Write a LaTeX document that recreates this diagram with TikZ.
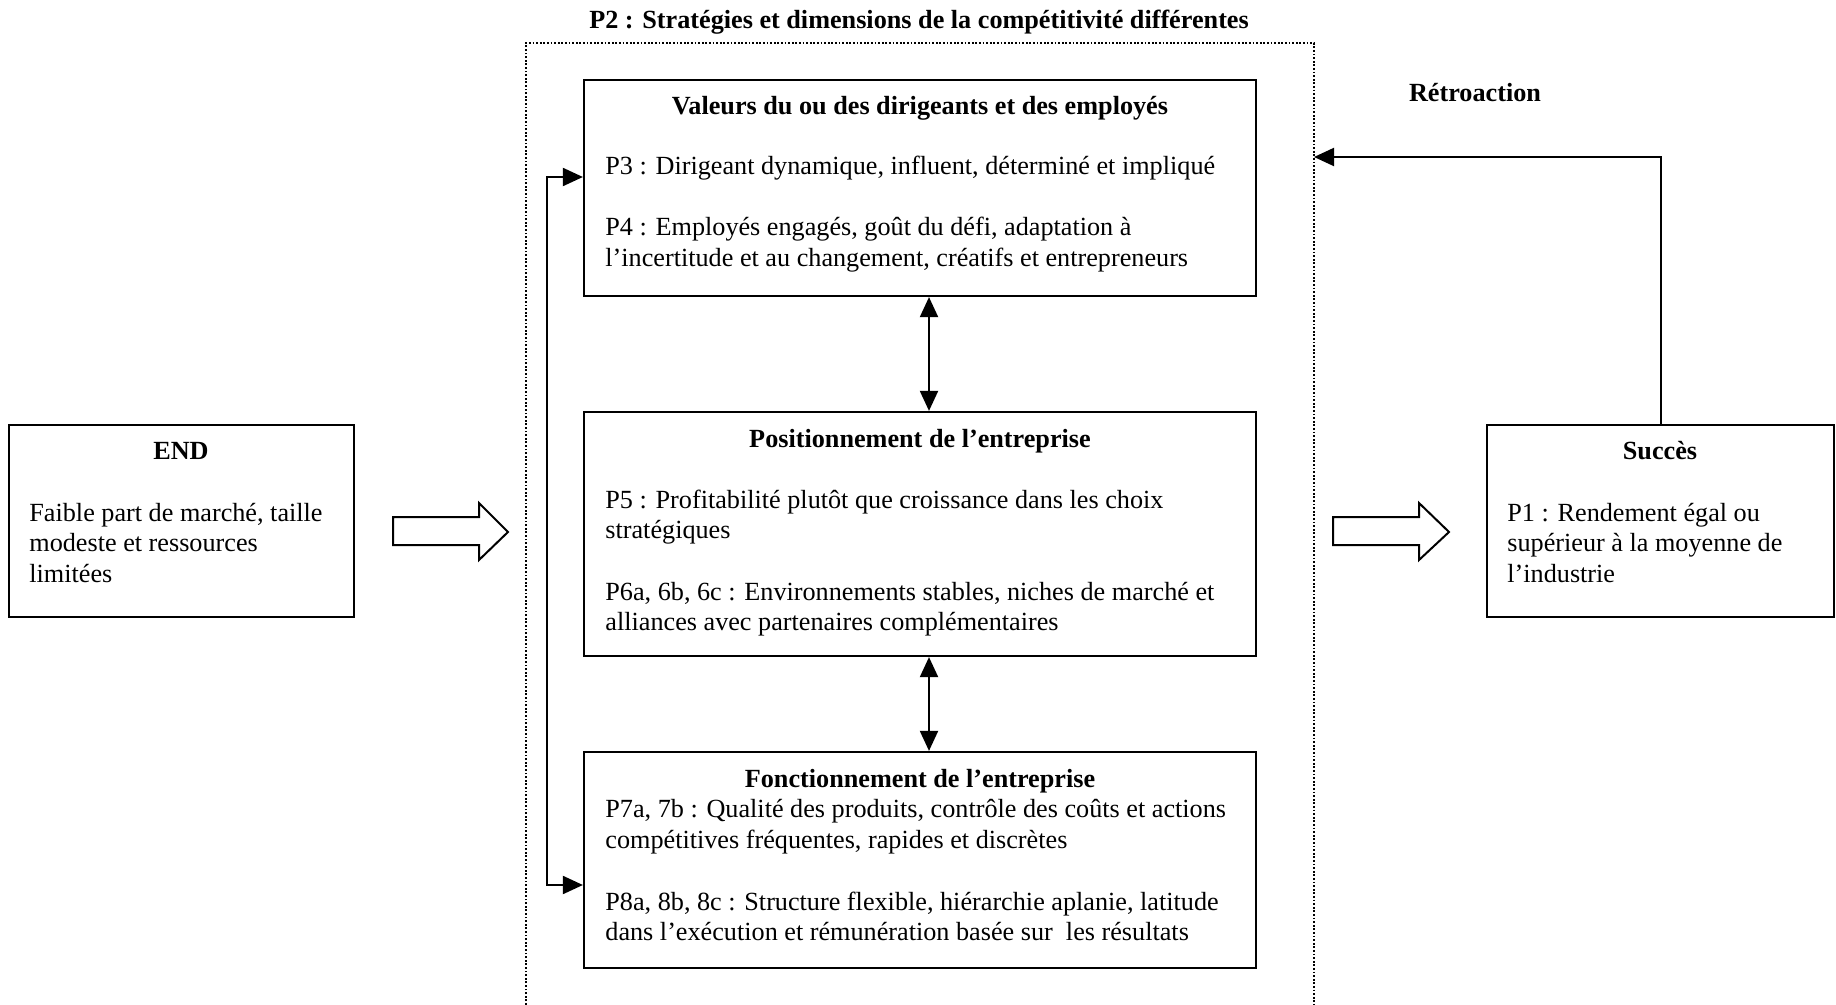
\documentclass[tikz,border=0pt]{standalone}
\usepackage{fontspec}
\setmainfont{Liberation Serif}
\usetikzlibrary{arrows.meta,fit}
\begin{document}
\begin{tikzpicture}[x=0.5pt,y=-0.5pt,
  box/.style={draw, line width=1.1pt, inner sep=0pt},
  txt/.style={inner sep=0pt, anchor=base west, font=\fontsize{13.1}{16}\selectfont},
  hd/.style={inner sep=0pt, anchor=base, font=\fontsize{13.1}{16}\selectfont\bfseries},
  conn/.style={line width=1pt, {Triangle[length=10pt,width=9pt]}-{Triangle[length=10pt,width=9pt]}},
  fb/.style={line width=1pt, -{Triangle[length=10pt,width=9pt]}},
  dots/.style={line width=1pt, dash pattern=on 0.9pt off 0.9pt},
  hollow/.style={draw, line width=1pt, fill=white, line join=miter}
]
\useasboundingbox (0,0) rectangle (1836,1005);
\clip (0,0) rectangle (1836,1005);

% title and dotted frame
\node[hd] (title) at (919,29) {P2 : Stratégies et dimensions de la compétitivité différentes};
\draw[dots] (526,1030) -- (526,43) -- (1314,43) -- (1314,1030);

% central boxes
\node[box, fit={(584,80) (1256,296)}] (val) {};
\node[box, fit={(584,412) (1256,656)}] (pos) {};
\node[box, fit={(584,752) (1256,968)}] (fonc) {};

% side boxes
\node[box, fit={(9,425) (354,617)}] (endb) {};
\node[box, fit={(1487,425) (1834,617)}] (succ) {};

% texts: Valeurs
\node[hd] (valh) at (920,115) {Valeurs du ou des dirigeants et des employés};
\node[txt] (p3) at (605,175) {P3 : Dirigeant dynamique, influent, déterminé et impliqué};
\node[txt] (p4a) at (605,236) {P4 : Employés engagés, goût du défi, adaptation à};
\node[txt] (p4b) at (605,267) {l’incertitude et au changement, créatifs et entrepreneurs};

% Positionnement
\node[hd] (posh) at (920,447) {Positionnement de l’entreprise};
\node[txt] (p5a) at (605,508) {P5 : Profitabilité plutôt que croissance dans les choix};
\node[txt] (p5b) at (605,538) {stratégiques};
\node[txt] (p6a) at (605,600) {P6a, 6b, 6c : Environnements stables, niches de marché et};
\node[txt] (p6b) at (605,630) {alliances avec partenaires complémentaires};

% Fonctionnement
\node[hd] (fonch) at (920,787) {Fonctionnement de l’entreprise};
\node[txt] (p7a) at (605,817) {P7a, 7b : Qualité des produits, contrôle des coûts et actions};
\node[txt] (p7b) at (605,848) {compétitives fréquentes, rapides et discrètes};
\node[txt] (p8a) at (605,910) {P8a, 8b, 8c : Structure flexible, hiérarchie aplanie, latitude};
\node[txt] (p8b) at (605,940) {dans l’exécution et rémunération basée sur\ \ les résultats};

% END
\node[hd] (endh) at (181,459) {END};
\node[txt] (e1) at (29,521) {Faible part de marché, taille};
\node[txt] (e2) at (29,551) {modeste et ressources};
\node[txt] (e3) at (29,582) {limitées};

% Succes
\node[hd] (succh) at (1660,459) {Succès};
\node[txt] (s1) at (1507,521) {P1 : Rendement égal ou};
\node[txt] (s2) at (1507,551) {supérieur à la moyenne de};
\node[txt] (s3) at (1507,582) {l’industrie};

% Retroaction
\node[hd] (retro) at (1475,102) {Rétroaction};

% hollow arrows
\draw[hollow] (393,517) -- (479,517) -- (479,503) -- (508,532) -- (479,560) -- (479,545) -- (393,545) -- cycle;
\draw[hollow] (1333,517) -- (1419,517) -- (1419,503) -- (1449,532) -- (1419,560) -- (1419,545) -- (1333,545) -- cycle;

% double arrows
\coordinate (dx) at (929,0);
\draw[conn] (val.south -| dx) -- (pos.north -| dx);
\draw[conn] (pos.south -| dx) -- (fonc.north -| dx);

% bracket
\coordinate (bkt) at (547,177);
\coordinate (bkb) at (547,885);
\draw[conn] (val.west |- bkt) -- (bkt) -- (bkb) -- (fonc.west |- bkb);

% feedback
\coordinate (fbend) at (1314,157);
\draw[fb] (succ.north) |- (fbend);
\end{tikzpicture}
\end{document}
